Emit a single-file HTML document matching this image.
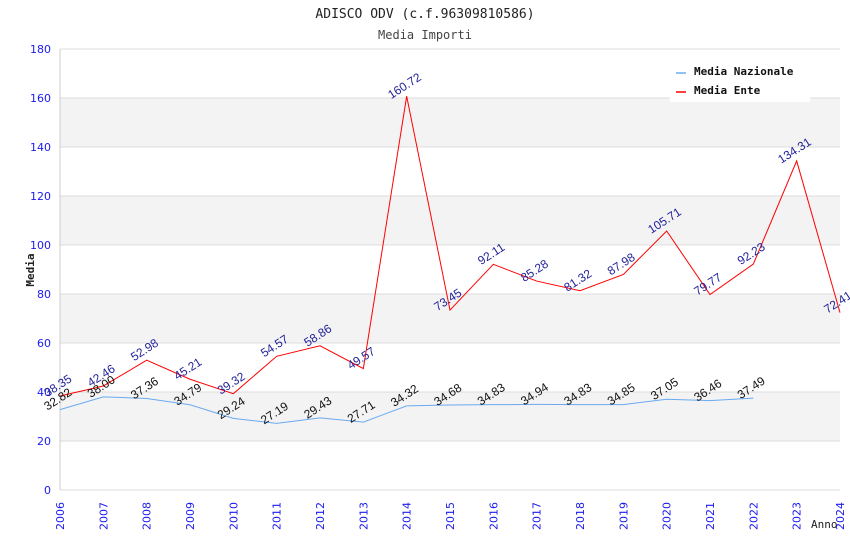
<!DOCTYPE html>
<html><head><meta charset="utf-8"><style>
body{margin:0;background:#fff}
svg{display:block;font-family:"DejaVu Sans","Liberation Sans",sans-serif}
</style></head><body>
<svg id="c" width="850" height="550">
<text x="425" y="18" text-anchor="middle" font-family="DejaVu Sans Mono,Liberation Mono,monospace" font-size="13" fill="#222">ADISCO ODV (c.f.96309810586)</text>
<text x="425" y="39" text-anchor="middle" font-family="DejaVu Sans Mono,Liberation Mono,monospace" font-size="12" fill="#444">Media Importi</text>
<text transform="translate(34,270) rotate(-90)" text-anchor="middle" font-family="DejaVu Sans Mono,monospace" font-size="11" font-weight="bold" fill="#222">Media</text>
<text x="811" y="528" font-family="DejaVu Sans Mono,monospace" font-size="11" fill="#222">Anno</text>
<g id="grid"></g><g id="series"></g><g id="labels"></g>
<g>
<rect x="670" y="60" width="140" height="42" fill="#fff"/>
<line x1="676" y1="73" x2="686" y2="73" stroke="#6aaaf0" stroke-width="1.5"/>
<text x="694" y="75" font-family="DejaVu Sans Mono,monospace" font-size="11" font-weight="bold" fill="#111">Media Nazionale</text>
<line x1="676" y1="92" x2="686" y2="92" stroke="#f00" stroke-width="1.5"/>
<text x="694" y="94" font-family="DejaVu Sans Mono,monospace" font-size="11" font-weight="bold" fill="#111">Media Ente</text>
</g>
</svg>
<script>
const years=[2006,2007,2008,2009,2010,2011,2012,2013,2014,2015,2016,2017,2018,2019,2020,2021,2022,2023,2024];
const ente=[38.35,42.46,52.98,45.21,39.32,54.57,58.86,49.57,160.72,73.45,92.11,85.28,81.32,87.98,105.71,79.77,92.23,134.31,72.41];
const nazionale=[32.82,38.00,37.36,34.79,29.24,27.19,29.43,27.71,34.32,34.68,34.83,34.94,34.83,34.85,37.05,36.46,37.49];
const yTicks=[0,20,40,60,80,100,120,140,160,180];
const L=60,R=840,T=49,B=490,YMAX=180;
const xs=i=>L+(R-L)*i/(years.length-1);
const ys=v=>B-(B-T)*v/YMAX;
const NS="http://www.w3.org/2000/svg";
function mk(t,a,p){const e=document.createElementNS(NS,t);for(const k in a)e.setAttribute(k,a[k]);p.appendChild(e);return e;}
const g=document.getElementById('grid');
for(let i=0;i<yTicks.length-1;i++){
 if(i%2===1){const r=mk('rect',{x:L,y:ys(yTicks[i+1]),width:R-L,height:ys(yTicks[i])-ys(yTicks[i+1]),fill:'#f3f3f3'},g);
 
 }
}
yTicks.forEach(v=>{
 const l=mk('line',{x1:L,x2:R,y1:ys(v),y2:ys(v),stroke:'#ddd'},g);
 
 
 const t=mk('text',{x:L-9,y:ys(v)+4,'text-anchor':'end','font-size':11,fill:'#1a1aee'},g);
 t.textContent=v;
 
 
});
mk('line',{x1:L,x2:L,y1:T,y2:B,stroke:'#ccc'},g);
years.forEach((y,i)=>{
 const t=mk('text',{transform:`translate(${xs(i)+4},${B+40}) rotate(-90)`,'font-size':11,fill:'#1a1aee'},g);
 t.textContent=y;
 
 
});
const s=document.getElementById('series'),lb=document.getElementById('labels');
function line(arr,col,name){
 const p=mk('polyline',{points:arr.map((v,i)=>xs(i)+','+ys(v)).join(' '),fill:'none',stroke:col,'stroke-width':1},s);
 
 
}
line(nazionale,'#6aaaf0','line-nazionale');
line(ente,'#ff0000','line-ente');
function labs(arr,col,name){
 arr.forEach((v,i)=>{
  const t=mk('text',{transform:`translate(${xs(i)},${ys(v)-7}) rotate(-33)`,'text-anchor':'middle','font-size':12,'font-family':'Liberation Sans,sans-serif',fill:col},lb);
  t.textContent=v.toFixed(2);
  
  
 });
}
labs(nazionale,'#111','value-label-nazionale');
labs(ente,'#22229a','value-label-ente');
</script>
</body></html>
